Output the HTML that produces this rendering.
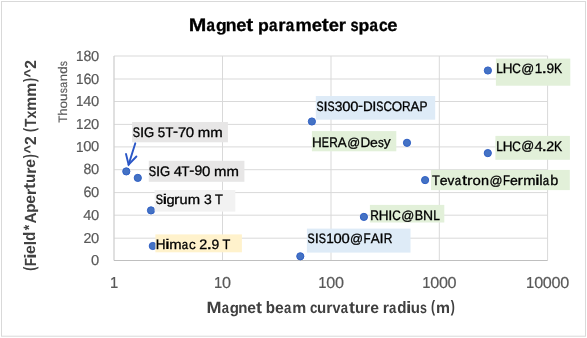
<!DOCTYPE html>
<html><head><meta charset="utf-8"><style>
html,body{margin:0;padding:0;background:#fff;}
body{width:587px;height:338px;overflow:hidden;}
svg{display:block;font-family:"Liberation Sans", sans-serif;font-kerning:none;text-rendering:geometricPrecision;filter:blur(0.4px);}
</style></head><body>
<svg width="587" height="338" viewBox="0 0 587 338">
<rect x="1.5" y="1.5" width="584" height="334.7" fill="#fff" stroke="#D9D9D9" stroke-width="1"/>
<line x1="114.00" x2="547.60" y1="56.00" y2="56.00" stroke="#D9D9D9" stroke-width="1"/>
<line x1="114.00" x2="547.60" y1="79.00" y2="79.00" stroke="#D9D9D9" stroke-width="1"/>
<line x1="114.00" x2="547.60" y1="101.50" y2="101.50" stroke="#D9D9D9" stroke-width="1"/>
<line x1="114.00" x2="547.60" y1="124.40" y2="124.40" stroke="#D9D9D9" stroke-width="1"/>
<line x1="114.00" x2="547.60" y1="146.90" y2="146.90" stroke="#D9D9D9" stroke-width="1"/>
<line x1="114.00" x2="547.60" y1="169.70" y2="169.70" stroke="#D9D9D9" stroke-width="1"/>
<line x1="114.00" x2="547.60" y1="192.60" y2="192.60" stroke="#D9D9D9" stroke-width="1"/>
<line x1="114.00" x2="547.60" y1="215.20" y2="215.20" stroke="#D9D9D9" stroke-width="1"/>
<line x1="114.00" x2="547.60" y1="238.20" y2="238.20" stroke="#D9D9D9" stroke-width="1"/>
<line x1="222.50" x2="222.50" y1="56.00" y2="260.50" stroke="#D9D9D9" stroke-width="1"/>
<line x1="331.00" x2="331.00" y1="56.00" y2="260.50" stroke="#D9D9D9" stroke-width="1"/>
<line x1="439.30" x2="439.30" y1="56.00" y2="260.50" stroke="#D9D9D9" stroke-width="1"/>
<line x1="547.60" x2="547.60" y1="56.00" y2="260.50" stroke="#D9D9D9" stroke-width="1"/>
<line x1="114.0" x2="114.0" y1="56.00" y2="260.50" stroke="#D0D0D0" stroke-width="1.3"/>
<line x1="114.00" x2="547.60" y1="260.50" y2="260.50" stroke="#BFBFBF" stroke-width="1"/>
<g fill="#595959"><text transform="matrix(0.13455 0 0 0.14452 75.918 60.600)" font-size="100" stroke="#595959" stroke-width="1.433">1</text><text transform="matrix(0.14051 0 0 0.15066 83.447 60.566)" font-size="100" stroke="#595959" stroke-width="1.374">8</text><text transform="matrix(0.14708 0 0 0.14310 91.095 60.566)" font-size="100" stroke="#595959" stroke-width="1.378">0</text></g>
<g fill="#595959"><text transform="matrix(0.13455 0 0 0.14452 75.918 83.600)" font-size="100" stroke="#595959" stroke-width="1.433">1</text><text transform="matrix(0.14306 0 0 0.14896 83.406 83.568)" font-size="100" stroke="#595959" stroke-width="1.370">6</text><text transform="matrix(0.14708 0 0 0.14310 91.095 83.566)" font-size="100" stroke="#595959" stroke-width="1.378">0</text></g>
<g fill="#595959"><text transform="matrix(0.13455 0 0 0.14452 75.918 106.100)" font-size="100" stroke="#595959" stroke-width="1.433">1</text><text transform="matrix(0.14507 0 0 0.14419 83.370 106.100)" font-size="100" stroke="#595959" stroke-width="1.383">4</text><text transform="matrix(0.14708 0 0 0.14310 91.095 106.066)" font-size="100" stroke="#595959" stroke-width="1.378">0</text></g>
<g fill="#595959"><text transform="matrix(0.13455 0 0 0.14452 75.918 129.000)" font-size="100" stroke="#595959" stroke-width="1.433">1</text><text transform="matrix(0.14225 0 0 0.14359 83.417 129.000)" font-size="100" stroke="#595959" stroke-width="1.399">2</text><text transform="matrix(0.14708 0 0 0.14310 91.095 128.966)" font-size="100" stroke="#595959" stroke-width="1.378">0</text></g>
<g fill="#595959"><text transform="matrix(0.13455 0 0 0.14452 75.918 151.500)" font-size="100" stroke="#595959" stroke-width="1.433">1</text><text transform="matrix(0.14708 0 0 0.14310 83.264 151.466)" font-size="100" stroke="#595959" stroke-width="1.378">0</text><text transform="matrix(0.14708 0 0 0.14310 91.095 151.466)" font-size="100" stroke="#595959" stroke-width="1.378">0</text></g>
<g fill="#595959"><text transform="matrix(0.14051 0 0 0.15066 83.447 174.266)" font-size="100" stroke="#595959" stroke-width="1.374">8</text><text transform="matrix(0.14708 0 0 0.14310 91.095 174.266)" font-size="100" stroke="#595959" stroke-width="1.378">0</text></g>
<g fill="#595959"><text transform="matrix(0.14306 0 0 0.14896 83.406 197.168)" font-size="100" stroke="#595959" stroke-width="1.370">6</text><text transform="matrix(0.14708 0 0 0.14310 91.095 197.166)" font-size="100" stroke="#595959" stroke-width="1.378">0</text></g>
<g fill="#595959"><text transform="matrix(0.14507 0 0 0.14419 83.370 219.800)" font-size="100" stroke="#595959" stroke-width="1.383">4</text><text transform="matrix(0.14708 0 0 0.14310 91.095 219.766)" font-size="100" stroke="#595959" stroke-width="1.378">0</text></g>
<g fill="#595959"><text transform="matrix(0.14225 0 0 0.14359 83.417 242.800)" font-size="100" stroke="#595959" stroke-width="1.399">2</text><text transform="matrix(0.14708 0 0 0.14310 91.095 242.766)" font-size="100" stroke="#595959" stroke-width="1.378">0</text></g>
<g fill="#595959"><text transform="matrix(0.14708 0 0 0.14310 91.095 265.066)" font-size="100" stroke="#595959" stroke-width="1.378">0</text></g>
<g fill="#595959"><text transform="matrix(0.14849 0 0 0.15949 109.968 287.900)" font-size="100" stroke="#595959" stroke-width="1.299">1</text></g>
<g fill="#595959"><text transform="matrix(0.14849 0 0 0.15949 213.985 287.900)" font-size="100" stroke="#595959" stroke-width="1.299">1</text><text transform="matrix(0.16231 0 0 0.15792 222.091 287.862)" font-size="100" stroke="#595959" stroke-width="1.249">0</text></g>
<g fill="#595959"><text transform="matrix(0.14849 0 0 0.15949 318.164 287.900)" font-size="100" stroke="#595959" stroke-width="1.299">1</text><text transform="matrix(0.16231 0 0 0.15792 326.270 287.862)" font-size="100" stroke="#595959" stroke-width="1.249">0</text><text transform="matrix(0.16231 0 0 0.15792 334.912 287.862)" font-size="100" stroke="#595959" stroke-width="1.249">0</text></g>
<g fill="#595959"><text transform="matrix(0.14849 0 0 0.15949 422.143 287.900)" font-size="100" stroke="#595959" stroke-width="1.299">1</text><text transform="matrix(0.16231 0 0 0.15792 430.249 287.862)" font-size="100" stroke="#595959" stroke-width="1.249">0</text><text transform="matrix(0.16231 0 0 0.15792 438.891 287.862)" font-size="100" stroke="#595959" stroke-width="1.249">0</text><text transform="matrix(0.16231 0 0 0.15792 447.533 287.862)" font-size="100" stroke="#595959" stroke-width="1.249">0</text></g>
<g fill="#595959"><text transform="matrix(0.14849 0 0 0.15949 526.122 287.900)" font-size="100" stroke="#595959" stroke-width="1.299">1</text><text transform="matrix(0.16231 0 0 0.15792 534.229 287.862)" font-size="100" stroke="#595959" stroke-width="1.249">0</text><text transform="matrix(0.16231 0 0 0.15792 542.870 287.862)" font-size="100" stroke="#595959" stroke-width="1.249">0</text><text transform="matrix(0.16231 0 0 0.15792 551.512 287.862)" font-size="100" stroke="#595959" stroke-width="1.249">0</text><text transform="matrix(0.16231 0 0 0.15792 560.153 287.862)" font-size="100" stroke="#595959" stroke-width="1.249">0</text></g>
<g fill="#000" font-weight="bold"><text transform="matrix(0.21116 0 0 0.18095 188.737 31.100)" font-size="100" stroke="#000" stroke-width="1.530">M</text><text transform="matrix(0.15237 0 0 0.17574 206.539 31.069)" font-size="100" stroke="#000" stroke-width="1.829">a</text><text transform="matrix(0.17514 0 0 0.16951 215.886 30.761)" font-size="100" stroke="#000" stroke-width="1.741">g</text><text transform="matrix(0.17552 0 0 0.17563 225.681 31.100)" font-size="100" stroke="#000" stroke-width="1.709">n</text><text transform="matrix(0.18321 0 0 0.17522 236.258 31.070)" font-size="100" stroke="#000" stroke-width="1.674">e</text><text transform="matrix(0.20917 0 0 0.18533 246.357 31.078)" font-size="100" stroke="#000" stroke-width="1.521">t</text><text transform="matrix(0.17693 0 0 0.16740 257.916 30.645)" font-size="100" stroke="#000" stroke-width="1.743">p</text><text transform="matrix(0.15237 0 0 0.17574 268.880 31.069)" font-size="100" stroke="#000" stroke-width="1.829">a</text><text transform="matrix(0.18636 0 0 0.17615 278.332 31.100)" font-size="100" stroke="#000" stroke-width="1.655">r</text><text transform="matrix(0.15237 0 0 0.17574 285.862 31.069)" font-size="100" stroke="#000" stroke-width="1.829">a</text><text transform="matrix(0.18306 0 0 0.17563 295.511 31.100)" font-size="100" stroke="#000" stroke-width="1.673">m</text><text transform="matrix(0.18321 0 0 0.17522 311.636 31.070)" font-size="100" stroke="#000" stroke-width="1.674">e</text><text transform="matrix(0.20917 0 0 0.18533 321.735 31.078)" font-size="100" stroke="#000" stroke-width="1.521">t</text><text transform="matrix(0.18321 0 0 0.17522 328.637 31.070)" font-size="100" stroke="#000" stroke-width="1.674">e</text><text transform="matrix(0.18636 0 0 0.17615 338.651 31.100)" font-size="100" stroke="#000" stroke-width="1.655">r</text><text transform="matrix(0.14526 0 0 0.17507 350.423 31.070)" font-size="100" stroke="#000" stroke-width="1.873">s</text><text transform="matrix(0.17693 0 0 0.16740 358.449 30.645)" font-size="100" stroke="#000" stroke-width="1.743">p</text><text transform="matrix(0.15237 0 0 0.17574 369.413 31.069)" font-size="100" stroke="#000" stroke-width="1.829">a</text><text transform="matrix(0.15635 0 0 0.17522 378.945 31.070)" font-size="100" stroke="#000" stroke-width="1.810">c</text><text transform="matrix(0.18321 0 0 0.17522 387.287 31.070)" font-size="100" stroke="#000" stroke-width="1.674">e</text></g>
<g fill="#404040" font-weight="bold"><text transform="matrix(0.18107 0 0 0.16163 206.539 313.200)" font-size="100">M</text><text transform="matrix(0.13066 0 0 0.15697 221.803 313.172)" font-size="100">a</text><text transform="matrix(0.15018 0 0 0.15141 229.818 312.897)" font-size="100">g</text><text transform="matrix(0.15051 0 0 0.15688 238.217 313.200)" font-size="100">n</text><text transform="matrix(0.15710 0 0 0.15651 247.287 313.173)" font-size="100">e</text><text transform="matrix(0.17936 0 0 0.16554 255.947 313.180)" font-size="100">t</text><text transform="matrix(0.15155 0 0 0.16556 265.868 313.164)" font-size="100">b</text><text transform="matrix(0.15710 0 0 0.15651 274.945 313.173)" font-size="100">e</text><text transform="matrix(0.13066 0 0 0.15697 283.893 313.172)" font-size="100">a</text><text transform="matrix(0.15697 0 0 0.15688 292.167 313.200)" font-size="100">m</text><text transform="matrix(0.13407 0 0 0.15651 309.894 313.173)" font-size="100">c</text><text transform="matrix(0.15051 0 0 0.15686 317.096 313.172)" font-size="100">u</text><text transform="matrix(0.15980 0 0 0.15734 326.204 313.200)" font-size="100">r</text><text transform="matrix(0.14474 0 0 0.15738 332.467 313.200)" font-size="100">v</text><text transform="matrix(0.13066 0 0 0.15697 340.774 313.172)" font-size="100">a</text><text transform="matrix(0.17936 0 0 0.16554 348.952 313.180)" font-size="100">t</text><text transform="matrix(0.15051 0 0 0.15686 354.919 313.172)" font-size="100">u</text><text transform="matrix(0.15980 0 0 0.15734 364.027 313.200)" font-size="100">r</text><text transform="matrix(0.15710 0 0 0.15651 370.169 313.173)" font-size="100">e</text><text transform="matrix(0.15980 0 0 0.15734 382.633 313.200)" font-size="100">r</text><text transform="matrix(0.13066 0 0 0.15697 389.090 313.172)" font-size="100">a</text><text transform="matrix(0.15155 0 0 0.16556 397.233 313.164)" font-size="100">d</text><text transform="matrix(0.19529 0 0 0.16606 405.919 313.200)" font-size="100">i</text><text transform="matrix(0.15051 0 0 0.15686 410.704 313.172)" font-size="100">u</text><text transform="matrix(0.12456 0 0 0.15637 419.933 313.173)" font-size="100">s</text><text transform="matrix(0.12343 0 0 0.16439 431.094 312.384)" font-size="100">(</text><text transform="matrix(0.15697 0 0 0.15688 436.041 313.200)" font-size="100">m</text><text transform="matrix(0.12343 0 0 0.16439 450.755 312.384)" font-size="100">)</text></g>
<g transform="translate(35.50,0) rotate(-90)" fill="#404040" font-weight="bold"><text transform="matrix(0.12359 0 0 0.16462 -270.866 -0.817)" font-size="100">(</text><text transform="matrix(0.12908 0 0 0.16185 -265.898 0.000)" font-size="100">F</text><text transform="matrix(0.19556 0 0 0.16629 -258.677 -0.000)" font-size="100">i</text><text transform="matrix(0.15731 0 0 0.15673 -253.935 -0.027)" font-size="100">e</text><text transform="matrix(0.15523 0 0 0.16629 -245.240 -0.000)" font-size="100">l</text><text transform="matrix(0.15176 0 0 0.16579 -241.080 -0.036)" font-size="100">d</text><text transform="matrix(0.13777 0 0 0.14964 -230.202 -1.989)" font-size="100">*</text><text transform="matrix(0.15448 0 0 0.16185 -223.570 0.000)" font-size="100">A</text><text transform="matrix(0.15192 0 0 0.14973 -212.783 -0.407)" font-size="100">p</text><text transform="matrix(0.15731 0 0 0.15673 -203.684 -0.027)" font-size="100">e</text><text transform="matrix(0.16002 0 0 0.15756 -195.085 0.000)" font-size="100">r</text><text transform="matrix(0.17961 0 0 0.16576 -188.908 -0.020)" font-size="100">t</text><text transform="matrix(0.15072 0 0 0.15708 -182.932 -0.028)" font-size="100">u</text><text transform="matrix(0.16002 0 0 0.15756 -173.812 0.000)" font-size="100">r</text><text transform="matrix(0.15731 0 0 0.15673 -167.662 -0.027)" font-size="100">e</text><text transform="matrix(0.12359 0 0 0.16462 -158.129 -0.817)" font-size="100">)</text><text transform="matrix(0.14657 0 0 0.14275 -153.584 -1.901)" font-size="100">^</text><text transform="matrix(0.15640 0 0 0.16128 -144.992 0.000)" font-size="100">2</text><text transform="matrix(0.12359 0 0 0.16462 -132.009 -0.817)" font-size="100">(</text><text transform="matrix(0.13926 0 0 0.16185 -127.098 0.000)" font-size="100">T</text><text transform="matrix(0.14063 0 0 0.15760 -118.552 0.000)" font-size="100">x</text><text transform="matrix(0.15719 0 0 0.15709 -110.662 0.000)" font-size="100">m</text><text transform="matrix(0.15719 0 0 0.15709 -96.693 0.000)" font-size="100">m</text><text transform="matrix(0.12359 0 0 0.16462 -81.959 -0.817)" font-size="100">)</text><text transform="matrix(0.14657 0 0 0.14275 -77.414 -1.901)" font-size="100">^</text><text transform="matrix(0.15640 0 0 0.16128 -68.822 0.000)" font-size="100">2</text></g>
<g transform="translate(66.80,0) rotate(-90)" fill="#595959"><text transform="matrix(0.11590 0 0 0.12253 -122.810 0.000)" font-size="100" stroke="#595959" stroke-width="1.258">T</text><text transform="matrix(0.13212 0 0 0.12590 -115.761 0.000)" font-size="100" stroke="#595959" stroke-width="1.163">h</text><text transform="matrix(0.13587 0 0 0.11792 -108.462 -0.025)" font-size="100" stroke="#595959" stroke-width="1.182">o</text><text transform="matrix(0.13169 0 0 0.11839 -100.952 -0.019)" font-size="100" stroke="#595959" stroke-width="1.200">u</text><text transform="matrix(0.10473 0 0 0.11835 -93.345 -0.019)" font-size="100" stroke="#595959" stroke-width="1.345">s</text><text transform="matrix(0.10354 0 0 0.11827 -87.872 -0.019)" font-size="100" stroke="#595959" stroke-width="1.353">a</text><text transform="matrix(0.13169 0 0 0.11839 -81.153 0.000)" font-size="100" stroke="#595959" stroke-width="1.200">n</text><text transform="matrix(0.13161 0 0 0.12544 -73.864 -0.033)" font-size="100" stroke="#595959" stroke-width="1.167">d</text><text transform="matrix(0.10473 0 0 0.11835 -66.208 -0.019)" font-size="100" stroke="#595959" stroke-width="1.345">s</text></g>
<circle cx="126.3" cy="171.4" r="3.6" fill="#4472C4" stroke="#2F5FC4" stroke-width="1"/>
<circle cx="137.8" cy="177.9" r="3.6" fill="#4472C4" stroke="#2F5FC4" stroke-width="1"/>
<circle cx="151.0" cy="210.4" r="3.6" fill="#4472C4" stroke="#2F5FC4" stroke-width="1"/>
<circle cx="152.8" cy="246.0" r="3.6" fill="#4472C4" stroke="#2F5FC4" stroke-width="1"/>
<circle cx="311.9" cy="121.5" r="3.6" fill="#4472C4" stroke="#2F5FC4" stroke-width="1"/>
<circle cx="407.0" cy="142.8" r="3.6" fill="#4472C4" stroke="#2F5FC4" stroke-width="1"/>
<circle cx="300.3" cy="256.3" r="3.6" fill="#4472C4" stroke="#2F5FC4" stroke-width="1"/>
<circle cx="363.9" cy="216.9" r="3.6" fill="#4472C4" stroke="#2F5FC4" stroke-width="1"/>
<circle cx="487.9" cy="70.5" r="3.6" fill="#4472C4" stroke="#2F5FC4" stroke-width="1"/>
<circle cx="487.8" cy="153.1" r="3.6" fill="#4472C4" stroke="#2F5FC4" stroke-width="1"/>
<circle cx="425.1" cy="180.1" r="3.6" fill="#4472C4" stroke="#2F5FC4" stroke-width="1"/>
<rect x="132.1" y="122.0" width="95.8" height="20.3" fill="#E7E6E6"/>
<g fill="#000"><text transform="matrix(0.10881 0 0 0.13868 132.756 136.617)" font-size="100" stroke="#000" stroke-width="2.424">S</text><text transform="matrix(0.15018 0 0 0.13963 139.968 136.650)" font-size="100" stroke="#000" stroke-width="2.070">I</text><text transform="matrix(0.13061 0 0 0.13868 143.975 136.617)" font-size="100" stroke="#000" stroke-width="2.228">G</text><text transform="matrix(0.13375 0 0 0.13914 157.725 136.616)" font-size="100" stroke="#000" stroke-width="2.199">5</text><text transform="matrix(0.12930 0 0 0.13963 165.428 136.650)" font-size="100" stroke="#000" stroke-width="2.231">T</text><text transform="matrix(0.15067 0 0 0.13943 173.121 136.124)" font-size="100" stroke="#000" stroke-width="2.068">-</text><text transform="matrix(0.14796 0 0 0.13963 178.034 136.650)" font-size="100" stroke="#000" stroke-width="2.086">7</text><text transform="matrix(0.15004 0 0 0.13868 185.849 136.617)" font-size="100" stroke="#000" stroke-width="2.078">0</text><text transform="matrix(0.14915 0 0 0.13492 197.719 136.650)" font-size="100" stroke="#000" stroke-width="2.112">m</text><text transform="matrix(0.14915 0 0 0.13492 210.309 136.650)" font-size="100" stroke="#000" stroke-width="2.112">m</text></g>
<rect x="148.8" y="160.8" width="95.6" height="21.0" fill="#E7E6E6"/>
<g fill="#000"><text transform="matrix(0.10906 0 0 0.13899 148.855 175.517)" font-size="100" stroke="#000" stroke-width="2.419">S</text><text transform="matrix(0.15052 0 0 0.13995 156.083 175.550)" font-size="100" stroke="#000" stroke-width="2.066">I</text><text transform="matrix(0.13091 0 0 0.13899 160.099 175.517)" font-size="100" stroke="#000" stroke-width="2.223">G</text><text transform="matrix(0.14832 0 0 0.14005 173.630 175.550)" font-size="100" stroke="#000" stroke-width="2.081">4</text><text transform="matrix(0.12959 0 0 0.13995 181.600 175.550)" font-size="100" stroke="#000" stroke-width="2.226">T</text><text transform="matrix(0.15101 0 0 0.13975 189.311 175.023)" font-size="100" stroke="#000" stroke-width="2.064">-</text><text transform="matrix(0.13976 0 0 0.13754 194.595 175.416)" font-size="100" stroke="#000" stroke-width="2.164">9</text><text transform="matrix(0.15038 0 0 0.13899 202.067 175.517)" font-size="100" stroke="#000" stroke-width="2.073">0</text><text transform="matrix(0.14949 0 0 0.13522 213.964 175.550)" font-size="100" stroke="#000" stroke-width="2.107">m</text><text transform="matrix(0.14949 0 0 0.13522 226.583 175.550)" font-size="100" stroke="#000" stroke-width="2.107">m</text></g>
<rect x="154.6" y="190.0" width="80.7" height="21.6" fill="#F2F2F2"/>
<g fill="#000"><text transform="matrix(0.10812 0 0 0.13779 155.759 204.317)" font-size="100" stroke="#000" stroke-width="2.440">S</text><text transform="matrix(0.21488 0 0 0.14125 162.428 204.350)" font-size="100" stroke="#000" stroke-width="1.685">i</text><text transform="matrix(0.14690 0 0 0.13139 166.491 204.180)" font-size="100" stroke="#000" stroke-width="2.156">g</text><text transform="matrix(0.16608 0 0 0.13432 173.888 204.350)" font-size="100" stroke="#000" stroke-width="1.997">r</text><text transform="matrix(0.14598 0 0 0.13405 179.457 204.328)" font-size="100" stroke="#000" stroke-width="2.143">u</text><text transform="matrix(0.14819 0 0 0.13405 187.816 204.350)" font-size="100" stroke="#000" stroke-width="2.126">m</text><text transform="matrix(0.13950 0 0 0.13779 203.921 204.317)" font-size="100" stroke="#000" stroke-width="2.164">3</text><text transform="matrix(0.12847 0 0 0.13874 215.098 204.350)" font-size="100" stroke="#000" stroke-width="2.245">T</text></g>
<rect x="155.4" y="234.4" width="86.5" height="17.9" fill="#FFF2CC"/>
<g fill="#000"><text transform="matrix(0.13621 0 0 0.13861 155.733 249.050)" font-size="100" stroke="#000" stroke-width="2.183">H</text><text transform="matrix(0.21469 0 0 0.14112 164.932 249.050)" font-size="100" stroke="#000" stroke-width="1.686">i</text><text transform="matrix(0.14806 0 0 0.13393 169.259 249.050)" font-size="100" stroke="#000" stroke-width="2.128">m</text><text transform="matrix(0.11466 0 0 0.13379 181.771 249.028)" font-size="100" stroke="#000" stroke-width="2.415">a</text><text transform="matrix(0.13413 0 0 0.13340 189.068 249.021)" font-size="100" stroke="#000" stroke-width="2.243">c</text><text transform="matrix(0.14404 0 0 0.13813 199.242 249.050)" font-size="100" stroke="#000" stroke-width="2.126">2</text><text transform="matrix(0.19817 0 0 0.16831 206.407 249.166)" font-size="100" stroke="#000" stroke-width="1.637">.</text><text transform="matrix(0.13843 0 0 0.13623 211.495 248.917)" font-size="100" stroke="#000" stroke-width="2.185">9</text><text transform="matrix(0.12835 0 0 0.13861 222.504 249.050)" font-size="100" stroke="#000" stroke-width="2.248">T</text></g>
<rect x="315.8" y="96.0" width="119.4" height="23.7" fill="#DEEBF7"/>
<g fill="#000"><text transform="matrix(0.10687 0 0 0.13621 316.465 110.518)" font-size="100" stroke="#000" stroke-width="2.468">S</text><text transform="matrix(0.14750 0 0 0.13714 323.548 110.550)" font-size="100" stroke="#000" stroke-width="2.108">I</text><text transform="matrix(0.10687 0 0 0.13621 327.477 110.518)" font-size="100" stroke="#000" stroke-width="2.468">S</text><text transform="matrix(0.13790 0 0 0.13621 334.852 110.518)" font-size="100" stroke="#000" stroke-width="2.189">3</text><text transform="matrix(0.14737 0 0 0.13621 342.330 110.518)" font-size="100" stroke="#000" stroke-width="2.116">0</text><text transform="matrix(0.14737 0 0 0.13621 350.176 110.518)" font-size="100" stroke="#000" stroke-width="2.116">0</text><text transform="matrix(0.14799 0 0 0.13695 358.106 110.034)" font-size="100" stroke="#000" stroke-width="2.106">-</text><text transform="matrix(0.13438 0 0 0.13714 362.884 110.550)" font-size="100" stroke="#000" stroke-width="2.210">D</text><text transform="matrix(0.14750 0 0 0.13714 372.360 110.550)" font-size="100" stroke="#000" stroke-width="2.108">I</text><text transform="matrix(0.10687 0 0 0.13621 376.290 110.518)" font-size="100" stroke="#000" stroke-width="2.468">S</text><text transform="matrix(0.11756 0 0 0.13621 383.381 110.518)" font-size="100" stroke="#000" stroke-width="2.364">C</text><text transform="matrix(0.13420 0 0 0.13621 391.634 110.518)" font-size="100" stroke="#000" stroke-width="2.219">O</text><text transform="matrix(0.11903 0 0 0.13714 402.110 110.550)" font-size="100" stroke="#000" stroke-width="2.342">R</text><text transform="matrix(0.13337 0 0 0.13714 410.415 110.550)" font-size="100" stroke="#000" stroke-width="2.218">A</text><text transform="matrix(0.12029 0 0 0.13714 419.461 110.550)" font-size="100" stroke="#000" stroke-width="2.331">P</text></g>
<rect x="311.9" y="131.1" width="84.4" height="20.2" fill="#E2F0D9"/>
<g fill="#000"><text transform="matrix(0.13490 0 0 0.13727 311.943 146.650)" font-size="100" stroke="#000" stroke-width="2.205">H</text><text transform="matrix(0.10734 0 0 0.13727 321.861 146.650)" font-size="100" stroke="#000" stroke-width="2.453">E</text><text transform="matrix(0.11914 0 0 0.13727 329.345 146.650)" font-size="100" stroke="#000" stroke-width="2.340">R</text><text transform="matrix(0.13349 0 0 0.13727 337.657 146.650)" font-size="100" stroke="#000" stroke-width="2.216">A</text><text transform="matrix(0.12718 0 0 0.12862 347.132 146.533)" font-size="100" stroke="#000" stroke-width="2.346">@</text><text transform="matrix(0.13451 0 0 0.13727 360.389 146.650)" font-size="100" stroke="#000" stroke-width="2.208">D</text><text transform="matrix(0.14027 0 0 0.13211 369.945 146.622)" font-size="100" stroke="#000" stroke-width="2.203">e</text><text transform="matrix(0.11486 0 0 0.13259 377.893 146.628)" font-size="100" stroke="#000" stroke-width="2.425">s</text><text transform="matrix(0.13769 0 0 0.12776 383.792 146.371)" font-size="100" stroke="#000" stroke-width="2.260">y</text></g>
<rect x="306.9" y="228.6" width="103.6" height="24.0" fill="#DEEBF7"/>
<g fill="#000"><text transform="matrix(0.10760 0 0 0.13713 307.561 243.317)" font-size="100" stroke="#000" stroke-width="2.452">S</text><text transform="matrix(0.14851 0 0 0.13808 314.693 243.350)" font-size="100" stroke="#000" stroke-width="2.094">I</text><text transform="matrix(0.10760 0 0 0.13713 318.649 243.317)" font-size="100" stroke="#000" stroke-width="2.452">S</text><text transform="matrix(0.13573 0 0 0.13850 326.193 243.350)" font-size="100" stroke="#000" stroke-width="2.188">1</text><text transform="matrix(0.14837 0 0 0.13713 333.603 243.317)" font-size="100" stroke="#000" stroke-width="2.102">0</text><text transform="matrix(0.14837 0 0 0.13713 341.502 243.317)" font-size="100" stroke="#000" stroke-width="2.102">0</text><text transform="matrix(0.12792 0 0 0.12937 350.124 243.232)" font-size="100" stroke="#000" stroke-width="2.332">@</text><text transform="matrix(0.11584 0 0 0.13808 363.611 243.350)" font-size="100" stroke="#000" stroke-width="2.363">F</text><text transform="matrix(0.13427 0 0 0.13808 370.706 243.350)" font-size="100" stroke="#000" stroke-width="2.203">A</text><text transform="matrix(0.14851 0 0 0.13808 379.590 243.350)" font-size="100" stroke="#000" stroke-width="2.094">I</text><text transform="matrix(0.11984 0 0 0.13808 383.752 243.350)" font-size="100" stroke="#000" stroke-width="2.326">R</text></g>
<rect x="369.9" y="204.9" width="74.4" height="17.6" fill="#E2F0D9"/>
<g fill="#000"><text transform="matrix(0.11991 0 0 0.13817 370.366 219.650)" font-size="100" stroke="#000" stroke-width="2.325">R</text><text transform="matrix(0.13578 0 0 0.13817 378.651 219.650)" font-size="100" stroke="#000" stroke-width="2.190">H</text><text transform="matrix(0.14860 0 0 0.13817 388.315 219.650)" font-size="100" stroke="#000" stroke-width="2.092">I</text><text transform="matrix(0.11844 0 0 0.13722 392.253 219.617)" font-size="100" stroke="#000" stroke-width="2.347">C</text><text transform="matrix(0.12801 0 0 0.12946 401.207 219.532)" font-size="100" stroke="#000" stroke-width="2.330">@</text><text transform="matrix(0.12619 0 0 0.13817 414.664 219.650)" font-size="100" stroke="#000" stroke-width="2.270">B</text><text transform="matrix(0.13987 0 0 0.13817 423.065 219.650)" font-size="100" stroke="#000" stroke-width="2.158">N</text><text transform="matrix(0.11899 0 0 0.13817 433.227 219.650)" font-size="100" stroke="#000" stroke-width="2.333">L</text></g>
<rect x="495.9" y="58.6" width="74.4" height="27.1" fill="#E2F0D9"/>
<g fill="#000"><text transform="matrix(0.11824 0 0 0.13729 496.280 73.150)" font-size="100" stroke="#000" stroke-width="2.348">L</text><text transform="matrix(0.13492 0 0 0.13729 502.673 73.150)" font-size="100" stroke="#000" stroke-width="2.204">H</text><text transform="matrix(0.11769 0 0 0.13635 512.285 73.117)" font-size="100" stroke="#000" stroke-width="2.362">C</text><text transform="matrix(0.12719 0 0 0.12864 521.182 73.033)" font-size="100" stroke="#000" stroke-width="2.345">@</text><text transform="matrix(0.13496 0 0 0.13771 534.804 73.150)" font-size="100" stroke="#000" stroke-width="2.201">1</text><text transform="matrix(0.19629 0 0 0.16671 541.568 73.265)" font-size="100" stroke="#000" stroke-width="1.653">.</text><text transform="matrix(0.13711 0 0 0.13493 546.607 73.018)" font-size="100" stroke="#000" stroke-width="2.206">9</text><text transform="matrix(0.12199 0 0 0.13729 554.050 73.150)" font-size="100" stroke="#000" stroke-width="2.314">K</text></g>
<rect x="495.4" y="135.9" width="74.5" height="23.9" fill="#E2F0D9"/>
<g fill="#000"><text transform="matrix(0.11824 0 0 0.13729 496.280 150.550)" font-size="100" stroke="#000" stroke-width="2.348">L</text><text transform="matrix(0.13492 0 0 0.13729 502.673 150.550)" font-size="100" stroke="#000" stroke-width="2.204">H</text><text transform="matrix(0.11769 0 0 0.13635 512.285 150.517)" font-size="100" stroke="#000" stroke-width="2.362">C</text><text transform="matrix(0.12719 0 0 0.12864 521.182 150.433)" font-size="100" stroke="#000" stroke-width="2.345">@</text><text transform="matrix(0.14550 0 0 0.13739 534.424 150.550)" font-size="100" stroke="#000" stroke-width="2.121">4</text><text transform="matrix(0.19629 0 0 0.16671 541.568 150.665)" font-size="100" stroke="#000" stroke-width="1.653">.</text><text transform="matrix(0.14267 0 0 0.13682 546.237 150.550)" font-size="100" stroke="#000" stroke-width="2.147">2</text><text transform="matrix(0.12199 0 0 0.13729 554.050 150.550)" font-size="100" stroke="#000" stroke-width="2.314">K</text></g>
<rect x="431.0" y="169.9" width="138.8" height="20.2" fill="#E2F0D9"/>
<g fill="#000"><text transform="matrix(0.12754 0 0 0.13774 432.064 184.750)" font-size="100" stroke="#000" stroke-width="2.262">T</text><text transform="matrix(0.14075 0 0 0.13256 439.715 184.722)" font-size="100" stroke="#000" stroke-width="2.195">e</text><text transform="matrix(0.13654 0 0 0.13350 447.577 184.750)" font-size="100" stroke="#000" stroke-width="2.222">v</text><text transform="matrix(0.11394 0 0 0.13295 454.655 184.728)" font-size="100" stroke="#000" stroke-width="2.430">a</text><text transform="matrix(0.18311 0 0 0.14439 461.929 184.745)" font-size="100" stroke="#000" stroke-width="1.832">t</text><text transform="matrix(0.16488 0 0 0.13335 467.055 184.750)" font-size="100" stroke="#000" stroke-width="2.012">r</text><text transform="matrix(0.14952 0 0 0.13256 472.518 184.722)" font-size="100" stroke="#000" stroke-width="2.127">o</text><text transform="matrix(0.14493 0 0 0.13309 480.875 184.750)" font-size="100" stroke="#000" stroke-width="2.158">n</text><text transform="matrix(0.12761 0 0 0.12906 489.488 184.633)" font-size="100" stroke="#000" stroke-width="2.338">@</text><text transform="matrix(0.11555 0 0 0.13774 502.942 184.750)" font-size="100" stroke="#000" stroke-width="2.369">F</text><text transform="matrix(0.14075 0 0 0.13256 509.957 184.722)" font-size="100" stroke="#000" stroke-width="2.195">e</text><text transform="matrix(0.16488 0 0 0.13335 517.621 184.750)" font-size="100" stroke="#000" stroke-width="2.012">r</text><text transform="matrix(0.14713 0 0 0.13309 523.280 184.750)" font-size="100" stroke="#000" stroke-width="2.141">m</text><text transform="matrix(0.21334 0 0 0.14023 534.969 184.750)" font-size="100" stroke="#000" stroke-width="1.697">i</text><text transform="matrix(0.15201 0 0 0.14152 539.220 184.750)" font-size="100" stroke="#000" stroke-width="2.044">l</text><text transform="matrix(0.11394 0 0 0.13295 542.850 184.728)" font-size="100" stroke="#000" stroke-width="2.430">a</text><text transform="matrix(0.14483 0 0 0.14102 550.303 184.713)" font-size="100" stroke="#000" stroke-width="2.099">b</text></g>
<path d="M135.3 143.3 L128.6 164.6" stroke="#2A56C6" stroke-width="1.9" fill="none" stroke-linecap="round"/>
<path d="M126.0 154.0 L128.6 164.6 L136.4 156.5" stroke="#2A56C6" stroke-width="1.9" fill="none" stroke-linecap="round" stroke-linejoin="miter"/>
</svg>
</body></html>
